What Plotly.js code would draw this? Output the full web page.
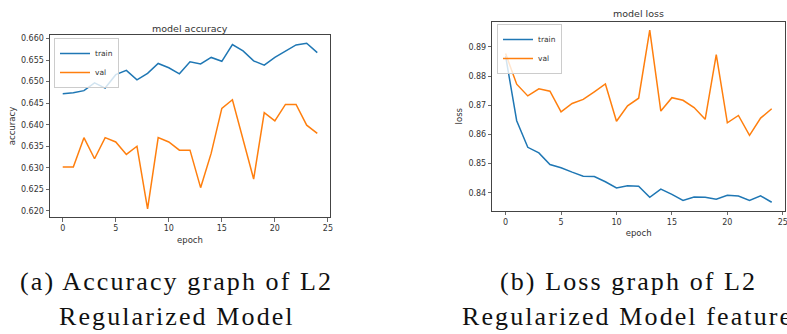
<!DOCTYPE html>
<html><head><meta charset="utf-8">
<script src="https://cdn.plot.ly/plotly-3.0.1.min.js"></script>
<style>html,body{margin:0;padding:0;background:#fff}#c{width:787px;height:334px}
text.annotation-text[style*="Liberation Serif"]{letter-spacing:2.1px}
</style>
</head><body><div id="c"></div>
<script>
const epochs = Array.from({length:25},(_, i)=>i);
const accTrain = [0.6472,0.6474,0.6479,0.6497,0.6485,0.6516,0.6526,0.6504,0.6519,0.6542,0.6532,0.6518,0.6546,0.6541,0.6556,0.6547,0.6586,0.6571,0.6548,0.6538,0.6556,0.6570,0.6585,0.6589,0.6567];
const accVal = [0.6302,0.6302,0.6370,0.6321,0.6370,0.6360,0.6331,0.6350,0.6205,0.6370,0.6360,0.6341,0.6341,0.6254,0.6334,0.6438,0.6458,0.6367,0.6274,0.6428,0.6409,0.6447,0.6447,0.6399,0.6380];
const lossTrain = [0.8868,0.8647,0.8556,0.8537,0.8497,0.8486,0.8471,0.8457,0.8456,0.8438,0.8417,0.8424,0.8423,0.8385,0.8413,0.8395,0.8374,0.8386,0.8385,0.8378,0.8392,0.8389,0.8374,0.8390,0.8368];
const lossVal = [0.8877,0.8772,0.8732,0.8756,0.8748,0.8677,0.8706,0.8720,0.8746,0.8773,0.8645,0.8698,0.8724,0.8957,0.8680,0.8726,0.8717,0.8692,0.8652,0.8873,0.8640,0.8665,0.8597,0.8656,0.8688];
const accTicks = [0.620,0.625,0.630,0.635,0.640,0.645,0.650,0.655,0.660];
const accTickText = ['0.620','0.625','0.630','0.635','0.640','0.645','0.650','0.655','0.660'];
const lossTicks = [0.84,0.85,0.86,0.87,0.88,0.89];
const lossTickText = ['0.84','0.85','0.86','0.87','0.88','0.89'];
const xTicks = [0,5,10,15,20,25];
const captionA = ['(a) Accuracy graph of L2','Regularized Model'];
const captionB = ['(b) Loss graph of L2','Regularized Model features'];

const blue = '#1f77b4', orange = '#ff7f0e';
const W = 787, H = 334;
const tf = {family:'DejaVu Sans', size:8, color:'#333'};
function ax(extra){
  return Object.assign({showline:true, mirror:true, linecolor:'#444', linewidth:1, ticks:'outside', ticklen:3.5, tickwidth:0.8, tickcolor:'#444', showgrid:false, zeroline:false, tickfont:tf, automargin:false, ticklabeloverflow:'allow'}, extra);
}
const traces = [
  {x:epochs, y:accTrain, name:'train', type:'scatter', mode:'lines', line:{color:blue, width:1.5}, xaxis:'x', yaxis:'y', legend:'legend'},
  {x:epochs, y:accVal, name:'val', type:'scatter', mode:'lines', line:{color:orange, width:1.5}, xaxis:'x', yaxis:'y', legend:'legend'},
  {x:epochs, y:lossTrain, name:'train', type:'scatter', mode:'lines', line:{color:blue, width:1.5}, xaxis:'x2', yaxis:'y2', legend:'legend2'},
  {x:epochs, y:lossVal, name:'val', type:'scatter', mode:'lines', line:{color:orange, width:1.5}, xaxis:'x2', yaxis:'y2', legend:'legend2'}
];
const legStyle = {bgcolor:'rgba(255,255,255,0.8)', bordercolor:'#ccc', borderwidth:1, font:{family:'DejaVu Sans', size:7.5, color:'#333'}, xanchor:'left', yanchor:'top', tracegroupgap:0, itemwidth:30};
const ann = (text, x, y, font, xa) => ({text, x:x/W, y:1-y/H, xref:'paper', yref:'paper', xanchor:xa||'center', yanchor:'middle', showarrow:false, font});
const titleFont = {family:'DejaVu Sans', size:9.5, color:'#333'};
const capFont = {family:'Liberation Serif', size:26, color:'#111'};
const layout = {
  width:W, height:H, margin:{l:0,r:0,t:0,b:0}, paper_bgcolor:'#fff', plot_bgcolor:'#fff', showlegend:true,
  xaxis: ax({domain:[50/W, 330/W], range:[-1.2,25.2], tickvals:xTicks, anchor:'y', title:{text:'epoch', font:{family:'DejaVu Sans', size:8.5, color:'#333'}, standoff:4}}),
  yaxis: ax({domain:[1-217/H, 1-35/H], range:[0.6186,0.6608], tickvals:accTicks, ticktext:accTickText, anchor:'x', title:{text:'accuracy', font:{family:'DejaVu Sans', size:8.5, color:'#333'}, standoff:4}}),
  xaxis2: ax({domain:[492.3/W, 785/W], range:[-1.2,25.2], tickvals:xTicks, anchor:'y2', title:{text:'epoch', font:{family:'DejaVu Sans', size:8.5, color:'#333'}, standoff:4}}),
  yaxis2: ax({domain:[1-210.7/H, 1-21.7/H], range:[0.8339,0.8986], tickvals:lossTicks, ticktext:lossTickText, anchor:'x2', title:{text:'loss', font:{family:'DejaVu Sans', size:8.5, color:'#333'}, standoff:4}}),
  legend: Object.assign({x:54/W, y:1-38/H}, legStyle),
  legend2: Object.assign({x:497/W, y:1-24/H}, legStyle),
  annotations:[
    ann('model accuracy', 190, 28, titleFont),
    ann('model loss', 638, 13, titleFont),
    ann(captionA[0], 18, 281, capFont, 'left'),
    ann(captionA[1], 57, 316, capFont, 'left'),
    ann(captionB[0], 498, 281, capFont, 'left'),
    ann(captionB[1], 460, 316, capFont, 'left')
  ]
};
Plotly.newPlot('c', traces, layout, {staticPlot:true, displayModeBar:false});
</script></body></html>
